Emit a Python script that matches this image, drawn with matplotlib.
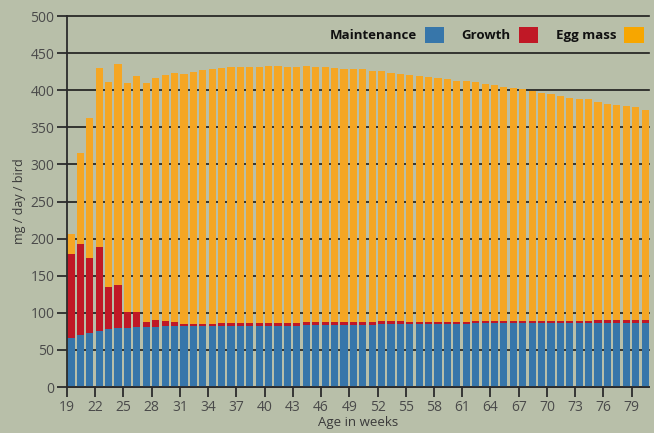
import matplotlib.pyplot as plt
from matplotlib.patches import Patch
import numpy as np

# weekly requirement per bird, mg/day
weeks = list(range(19, 81))
maintenance = [66, 70, 73, 75, 78, 80, 80, 81, 81, 81, 82, 82, 82, 82, 82, 82,
               82, 82, 82, 82, 82, 82, 82, 82, 82, 83, 83, 83, 83, 83, 83, 83,
               83, 85, 85, 85, 85, 85, 85, 85, 85, 85, 85, 86, 86, 86, 86, 86,
               86, 86, 86, 86, 86, 86, 86, 86, 86, 86, 86, 86, 86, 86]
growth = [113, 123, 101, 114, 57, 57, 21, 20, 7, 9, 7, 6, 3, 3, 3, 3,
          4, 4, 4, 4, 4, 4, 4, 4, 4, 4, 4, 4, 4, 4, 4, 4,
          4, 4, 4, 4, 3, 3, 3, 3, 3, 3, 3, 3, 3, 3, 3, 3,
          3, 3, 3, 3, 3, 3, 3, 3, 4, 4, 4, 4, 4, 4]
egg_mass = [27, 122, 188, 241, 276, 298, 309, 318, 322, 326, 331, 335, 337, 340, 342, 343,
            344, 345, 345, 345, 345, 347, 347, 345, 345, 346, 344, 344, 343, 342, 341, 341,
            339, 337, 334, 333, 332, 331, 330, 328, 327, 324, 324, 322, 319, 318, 315, 314,
            312, 310, 307, 306, 303, 301, 299, 299, 294, 292, 290, 289, 287, 283]

series_names = ['Maintenance', 'Growth', 'Egg mass']
x_ticks = list(range(19, 80, 3))
y_ticks = list(range(0, 501, 50))

bg = '#b8bfa9'
blue = '#3776aa'
red = '#c01826'
orange = '#f5a623'

plt.rcParams['font.family'] = ['Open Sans', 'DejaVu Sans']

fig = plt.figure(figsize=(6.54, 4.33), dpi=100, facecolor=bg)
ax = fig.add_axes([0.1024, 0.1062, 0.8900, 0.8568], facecolor=bg)

x = np.array(weeks) + 0.05
m = np.array(maintenance)
g = np.array(growth)
e = np.array(egg_mass)
w = 0.76
ax.bar(x, m, width=w, align='edge', color=blue, zorder=3)
ax.bar(x, g, width=w, bottom=m, align='edge', color=red, zorder=3)
ax.bar(x, e, width=w, bottom=m + g, align='edge', color=orange, zorder=3)

ax.set_xlim(19, 80.85)
ax.set_ylim(0, 500)
ax.set_xticks(x_ticks)
ax.set_yticks(y_ticks)

ax.yaxis.grid(True, color='#1c1c1c', lw=1.2)
for gl in ax.get_ygridlines():
    gl.set_clip_on(False)
ax.set_axisbelow(True)

for s in ['top', 'right']:
    ax.spines[s].set_visible(False)
for s in ['left', 'bottom']:
    ax.spines[s].set_color('#2b2b2b')
    ax.spines[s].set_linewidth(1.3)
    ax.spines[s].set_zorder(4)

ax.tick_params(axis='both', colors='#2b2b2b', labelcolor='#4a4a4a',
               labelsize=10, length=7, width=1.3)
ax.tick_params(axis='x', pad=2)
ax.tick_params(axis='y', pad=2)

ax.set_xlabel('Age in weeks', fontsize=9.5, color='#3a3a3a', labelpad=1)
ax.set_ylabel('mg / day / bird', fontsize=9, color='#3a3a3a', labelpad=3)

handles = [Patch(facecolor=c, edgecolor='none') for c in (blue, red, '#f7a600')]
leg = ax.legend(handles, series_names, ncol=3, loc='upper right',
                bbox_to_anchor=(1.0, 0.985), frameon=False, markerfirst=False,
                handlelength=1.5, handleheight=1.5, handletextpad=0.6,
                columnspacing=1.3, borderaxespad=0.0,
                prop={'weight': 'bold', 'size': 9.5})
for t in leg.get_texts():
    t.set_color('#111111')

fig.savefig('out.png', dpi=100, facecolor=bg)
